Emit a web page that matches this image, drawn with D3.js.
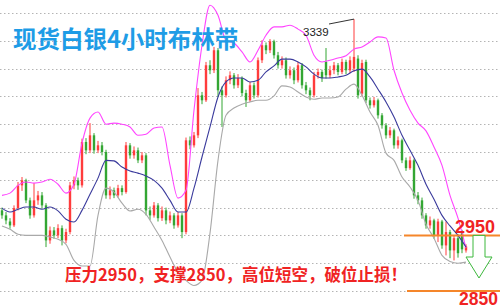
<!DOCTYPE html>
<html>
<head>
<meta charset="utf-8">
<script src="https://cdn.jsdelivr.net/npm/d3@7"></script>
<style>
  body { margin: 0; background: #fff; }
  svg { display: block; }
</style>
</head>
<body>
<div class="container"></div>
<script>
let redUp = "#ff3c3c";
let greenDown = "#33a633";
let upperColor = "#ff45ff";
let midColor = "#3a3a9c";
let lowerColor = "#a9a9a9";
let gridColor = "#b4b4b4";
let orange = "#f5862a";
let titleBlue = "#1e9ce6";
let textRed = "#f02323";

const width = 500;
const height = 307;

// candles: open / high / low / close (4 hour bars)
const opens = [2995,2986,2975,2968,2999,3040,3049,3013,2986,3013,3022,3004,2941,2959,2950,2963,2941,2956,3040,3049,
  3040,3118,3103,3130,3103,3112,3100,3022,3031,3022,3035,3028,3112,3094,3103,3085,3094,2995,2986,3004,
  2981,2995,2977,2986,2968,2986,2956,3121,3112,3130,3202,3193,3256,3247,3283,3211,3202,3229,3238,3220,
  3233,3206,3193,3220,3202,3265,3292,3283,3299,3274,3256,3265,3238,3247,3229,3256,3220,3211,3202,3238,
  3244,3262,3238,3247,3256,3244,3262,3247,3250,3268,3205,3262,3193,3184,3193,3166,3148,3130,3139,3112,
  3121,3085,3071,3085,3022,3013,2986,2968,2977,2950,2975,2932,2956,2923,2945,2954,2923];
const highs = [3000,2992,2981,3004,3046,3055,3052,3018,3044,3030,3028,3008,2966,2965,2970,2968,2962,3046,3056,3054,
  3124,3125,3152,3134,3120,3118,3104,3038,3036,3041,3040,3118,3116,3110,3108,3100,3098,3002,3010,3008,
  3002,3000,2993,2990,2992,2990,3126,3128,3136,3215,3208,3262,3265,3289,3287,3218,3236,3245,3242,3240,
  3236,3212,3226,3225,3270,3301,3297,3303,3302,3280,3272,3270,3254,3252,3262,3260,3226,3216,3244,3250,
  3248,3287,3255,3262,3260,3268,3266,3272,3339,3274,3266,3266,3198,3199,3196,3170,3152,3145,3142,3128,
  3124,3090,3092,3088,3028,3018,2990,2984,2980,2980,2978,2975,2960,2950,2952,2960,2934];
const lows = [2980,2970,2962,2965,2995,3030,3008,2980,2982,3005,2998,2929,2935,2944,2945,2932,2936,2952,3033,3032,
  3036,3096,3098,3097,3098,3094,3016,3015,3017,3018,3022,3025,3088,3088,3080,3080,2986,2978,2982,2975,
  2976,2970,2972,2962,2964,2945,2952,3105,3108,3125,3186,3190,3240,3242,3199,3145,3198,3222,3214,3215,
  3200,3181,3190,3196,3198,3260,3276,3278,3268,3250,3250,3232,3232,3222,3225,3214,3204,3193,3198,3232,
  3226,3232,3233,3240,3238,3240,3240,3242,3244,3196,3200,3188,3178,3180,3160,3142,3124,3125,3106,3106,
  3080,3066,3068,3016,3006,2980,2962,2962,2944,2938,2926,2914,2909,2905,2910,2918,2919];
const closes = [2986,2977,2968,2999,3040,3049,3013,2986,3013,3022,3004,2941,2959,2950,2963,2941,2956,3040,3049,3040,
  3118,3103,3130,3103,3112,3100,3022,3031,3022,3035,3028,3112,3094,3103,3085,3094,2995,2986,3004,2981,
  2995,2977,2986,2968,2986,2956,3121,3112,3130,3202,3193,3256,3247,3283,3211,3202,3229,3238,3220,3233,
  3206,3193,3220,3202,3265,3292,3283,3299,3274,3256,3265,3238,3247,3229,3256,3220,3211,3202,3238,3244,
  3233,3238,3247,3256,3244,3262,3247,3265,3271,3202,3260,3193,3184,3193,3166,3148,3130,3139,3112,3121,
  3085,3071,3085,3022,3013,2986,2968,2977,2950,2975,2932,2956,2923,2945,2918,2925,2930];

// bollinger bands, read every second bar
const upperBand = [3022,3026,3040,3046,3044,3046,3051,3042,3026,3042,3116,3161,3172,3150,3152,3150,3145,3130,3132,3143,
  3145,3076,3017,3031,3175,3292,3364,3346,3301,3296,3280,3262,3283,3310,3325,3325,3328,3321,3310,3274,
  3262,3265,3269,3273,3285,3289,3298,3307,3305,3247,3206,3175,3152,3138,3109,3076,3022,2981,2927];
const midBand = [2999,2992,2997,3001,3001,2997,3001,2994,2979,2974,2995,3024,3053,3085,3084,3073,3066,3062,3057,3049,
  3035,3013,2992,2992,3035,3091,3145,3199,3226,3233,3233,3226,3229,3244,3255,3267,3267,3262,3253,3240,
  3233,3233,3235,3238,3246,3249,3235,3213,3190,3163,3130,3103,3076,3042,3015,2986,2967,2950,2929];
const lowerBand = [2967,2961,2952,2950,2950,2950,2947,2943,2934,2905,2895,2895,2986,3035,3028,3008,2994,2997,2988,2965,
  2941,2911,2884,2869,2860,2869,2954,3085,3166,3179,3186,3190,3193,3193,3201,3219,3217,3208,3199,3195,
  3197,3197,3199,3213,3222,3202,3172,3148,3098,3085,3055,3037,3013,2970,2945,2914,2903,2900,2902];

const gridLevels = [2850,2900,2950,3000,3050,3100,3150,3200,3250,3300,3350];
const resistance = 2950;
const support = 2850;
const peakIndex = 88;
const peakLabel = "3339";
const title = "现货白银4小时布林带";
const note = "压力2950，支撑2850，高位短空，破位止损！";

const candles = opens.map((o, i) => ({ i: i, o: o, h: highs[i], l: lows[i], c: closes[i] }));

const svg = d3.select(".container")
  .append("svg")
  .attr("width", width)
  .attr("height", height);

svg.append("rect").attr("width", width).attr("height", height).attr("fill", "#fff");

//scales
const xScale = d3.scaleLinear()
  .domain([0, candles.length - 1])
  .range([2, 466]);

const yScale = d3.scaleLinear()
  .domain([2850, 3350])
  .range([291, 13]);

//dotted grid
svg.selectAll(".grid")
  .data(gridLevels)
  .enter()
  .append("line")
  .attr("x1", 0)
  .attr("x2", width)
  .attr("y1", d => Math.round(yScale(d)) + 0.5)
  .attr("y2", d => Math.round(yScale(d)) + 0.5)
  .attr("stroke", gridColor)
  .attr("stroke-width", 1)
  .attr("stroke-dasharray", "1.5,2.5");

//candles
const candleG = svg.append("g");

candleG.selectAll(".wick")
  .data(candles)
  .enter()
  .append("line")
  .attr("x1", d => xScale(d.i))
  .attr("x2", d => xScale(d.i))
  .attr("y1", d => yScale(d.h))
  .attr("y2", d => yScale(d.l))
  .attr("stroke", d => d.c >= d.o ? redUp : greenDown)
  .attr("stroke-width", 1);

candleG.selectAll(".body")
  .data(candles)
  .enter()
  .append("rect")
  .attr("x", d => xScale(d.i) - 1.2)
  .attr("width", 2.4)
  .attr("y", d => yScale(Math.max(d.o, d.c)))
  .attr("height", d => Math.max(1, Math.abs(yScale(d.o) - yScale(d.c))))
  .attr("fill", d => d.c >= d.o ? redUp : greenDown);

//bands
const bandLine = d3.line()
  .x((d, k) => xScale(k * 2))
  .y(d => yScale(d))
  .curve(d3.curveMonotoneX);

[[upperBand, upperColor], [midBand, midColor], [lowerBand, lowerColor]].forEach(([band, color]) => {
  svg.append("path")
    .attr("d", bandLine(band))
    .attr("fill", "none")
    .attr("stroke", color)
    .attr("stroke-width", 1.1);
});

//peak label
const peak = candles[peakIndex];
svg.append("line")
  .attr("x1", 329)
  .attr("y1", 24)
  .attr("x2", xScale(peak.i))
  .attr("y2", yScale(peak.h))
  .attr("stroke", "#333")
  .attr("stroke-width", 1);

svg.append("text")
  .attr("x", 303)
  .attr("y", 35.5)
  .text(peakLabel)
  .style("font-family", "'Liberation Sans', Arial, sans-serif")
  .style("font-size", "11.5px")
  .style("fill", "#222");

//support / resistance
svg.append("line")
  .attr("x1", 404).attr("x2", width)
  .attr("y1", yScale(resistance)).attr("y2", yScale(resistance))
  .attr("stroke", orange).attr("stroke-width", 2);

svg.append("line")
  .attr("x1", 407).attr("x2", width)
  .attr("y1", yScale(support)).attr("y2", yScale(support))
  .attr("stroke", orange).attr("stroke-width", 2);

//arrow
const ay = yScale(resistance);
svg.append("path")
  .attr("d", `M473,${ay} L485,${ay} L485,257 L492,257 L479,278 L466,257 L473,257 Z`)
  .attr("fill", "#fff")
  .attr("stroke", "#3cb83c")
  .attr("stroke-width", 1);

svg.append("text")
  .attr("x", 455)
  .attr("y", 233)
  .text(String(resistance))
  .style("font-family", "'Liberation Sans', Arial, sans-serif")
  .style("font-size", "18px")
  .style("font-weight", "bold")
  .style("fill", textRed);

svg.append("text")
  .attr("x", 459)
  .attr("y", 304.5)
  .text(String(support))
  .style("font-family", "'Liberation Sans', Arial, sans-serif")
  .style("font-size", "17.5px")
  .style("font-weight", "bold")
  .style("fill", textRed);

//title
svg.append("text")
  .attr("x", 13)
  .attr("y", 47.5)
  .text(title)
  .style("font-family", "'Noto Sans CJK SC', sans-serif")
  .style("font-size", "23.5px")
  .style("font-weight", "bold")
  .style("fill", titleBlue);

//note
svg.append("text")
  .attr("x", 65)
  .attr("y", 280.5)
  .text(note)
  .style("font-family", "'Noto Sans CJK SC', sans-serif")
  .style("font-size", "16.5px")
  .style("font-weight", "bold")
  .style("fill", textRed);
</script>
</body>
</html>
